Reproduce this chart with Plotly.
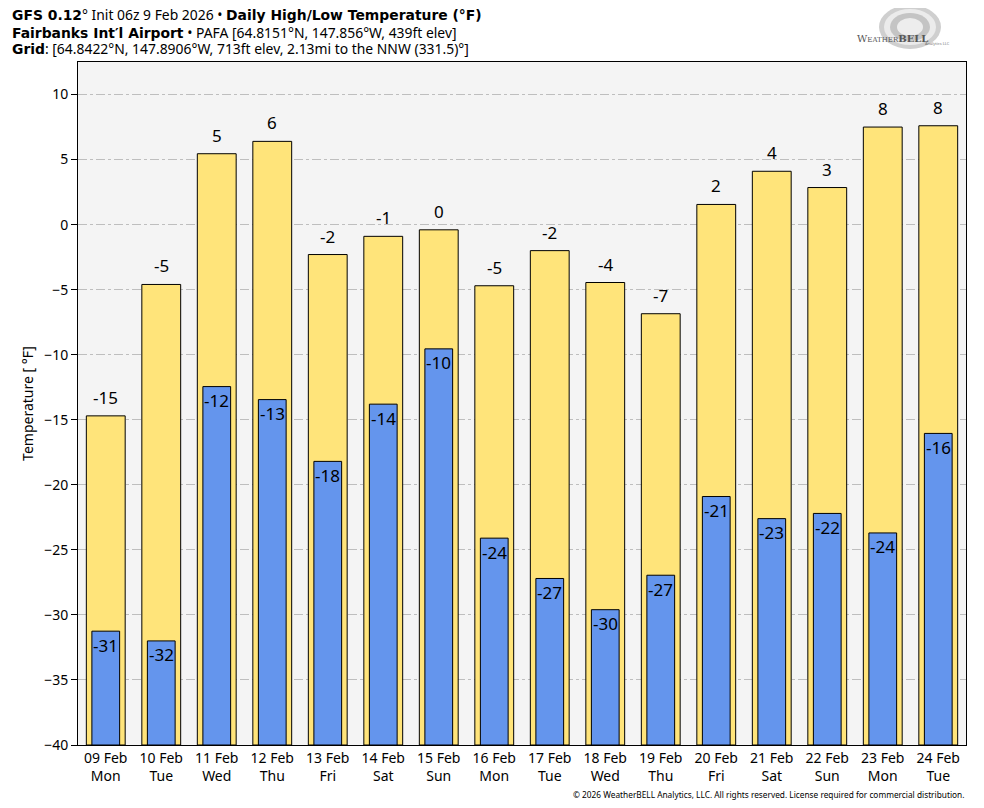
import plotly.graph_objects as go

dates = ["09 Feb", "10 Feb", "11 Feb", "12 Feb", "13 Feb", "14 Feb", "15 Feb", "16 Feb",
         "17 Feb", "18 Feb", "19 Feb", "20 Feb", "21 Feb", "22 Feb", "23 Feb", "24 Feb"]
days = ["Mon", "Tue", "Wed", "Thu", "Fri", "Sat", "Sun", "Mon",
        "Tue", "Wed", "Thu", "Fri", "Sat", "Sun", "Mon", "Tue"]
highs = [-14.7, -4.6, 5.45, 6.4, -2.3, -0.9, -0.4, -4.7,
         -2.0, -4.45, -6.85, 1.55, 4.1, 2.85, 7.5, 7.6]
lows = [-31.25, -32.0, -12.45, -13.45, -18.2, -13.8, -9.55, -24.1,
        -27.2, -29.6, -26.95, -20.9, -22.6, -22.2, -23.7, -16.05]
high_labels = [-15, -5, 5, 6, -2, -1, 0, -5, -2, -4, -7, 2, 4, 3, 8, 8]
low_labels = [-31, -32, -12, -13, -18, -14, -10, -24, -27, -30, -27, -21, -23, -22, -24, -16]

Y_MIN, Y_MAX = -40, 12.5
cats = [f"{d}<br>{w}" for d, w in zip(dates, days)]

FONT = "Noto Sans"
# page is offset by 8px; plot area spans x 78..966, y 62..745 in the screenshot
PW, PH = 888, 683


def px(X):
    return (X - 78) / PW


def py(Y):
    return (745 - Y) / PH


def bold(s):
    return f"<span style=\"font-family:'DejaVu Sans'\"><b>{s}</b></span>"


fig = go.Figure()
fig.add_trace(go.Bar(
    x=cats, y=[h - Y_MIN for h in highs], base=[Y_MIN] * len(highs),
    width=0.7, marker=dict(color="#FFE47A", line=dict(color="black", width=1)),
    hoverinfo="skip",
))
fig.add_trace(go.Bar(
    x=cats, y=[l - Y_MIN for l in lows], base=[Y_MIN] * len(lows),
    width=0.5, marker=dict(color="#6495ED", line=dict(color="black", width=1)),
    hoverinfo="skip",
))

for c, h, lab in zip(cats, highs, high_labels):
    fig.add_annotation(x=c, y=h, text=str(lab), showarrow=False, yanchor="middle",
                       yshift=18.5, font=dict(size=17, family=FONT, color="black"))
for c, l, lab in zip(cats, lows, low_labels):
    fig.add_annotation(x=c, y=l, text=str(lab), showarrow=False, yanchor="middle",
                       yshift=-14, font=dict(size=17, family=FONT, color="black"))

fig.update_layout(
    width=976, height=800, barmode="overlay", showlegend=False,
    margin=dict(l=70, r=18, t=54, b=63),
    paper_bgcolor="white", plot_bgcolor="#F4F4F4",
    font=dict(family=FONT, size=14, color="black"),
    xaxis=dict(showline=True, linecolor="black", linewidth=1, mirror=True,
               ticks="", tickfont=dict(size=14), showgrid=False),
    yaxis=dict(range=[Y_MIN, Y_MAX], dtick=5, tick0=0, showline=True, linecolor="black",
               linewidth=1, mirror=True, ticks="outside", ticklen=6, tickcolor="black",
               showgrid=True, gridcolor="#BEBEBE", griddash="dashdot", gridwidth=1,
               zeroline=False, tickfont=dict(size=14),
               title=dict(text="Temperature [ °F]", font=dict(size=14), standoff=7)),
)

title_lines = [
    bold("GFS 0.12") + "° Init 06z 9 Feb 2026 • " + bold("Daily High/Low Temperature (°F)"),
    bold("Fairbanks Int′l Airport") + " • PAFA [64.8151°N, 147.856°W, 439ft elev]",
    bold("Grid") + ": [64.8422°N, 147.8906°W, 713ft elev, 2.13mi to the NNW (331.5)°]",
]
for i, line in enumerate(title_lines):
    fig.add_annotation(text=line, xref="paper", yref="paper",
                       x=px(10), y=py(15 + 17 * i), xanchor="left", yanchor="middle",
                       align="left", showarrow=False, font=dict(size=13.9, family=FONT))

fig.add_annotation(text="© 2026 WeatherBELL Analytics, LLC. All rights reserved. License required for commercial distribution.",
                   xref="paper", yref="paper", x=px(966), y=py(794), xanchor="right", yanchor="middle",
                   showarrow=False, font=dict(size=8.3, family=FONT))

# logo approximation
for rx, ry, c in [(31, 22, "#CFCFCF"), (26, 18, "#EBEBEB"), (20, 14, "#C4C4C4"), (13, 9, "#EDEDED")]:
    fig.add_shape(type="circle", xref="paper", yref="paper",
                  x0=px(910 - rx), x1=px(910 + rx), y0=py(27 + ry), y1=py(27 - ry),
                  fillcolor=c, line=dict(width=0), layer="above")
fig.add_annotation(text="W<span style='font-size:7px'>EATHER</span><b>BELL</b>", xref="paper", yref="paper",
                   x=px(930), y=py(31), showarrow=False,
                   font=dict(size=10, color="#555555", family="DejaVu Serif"))
fig.add_annotation(text="Analytics LLC", xref="paper", yref="paper",
                   x=px(952), y=py(39), showarrow=False,
                   font=dict(size=4, color="#777777", family=FONT))

fig.write_html("out.html")
